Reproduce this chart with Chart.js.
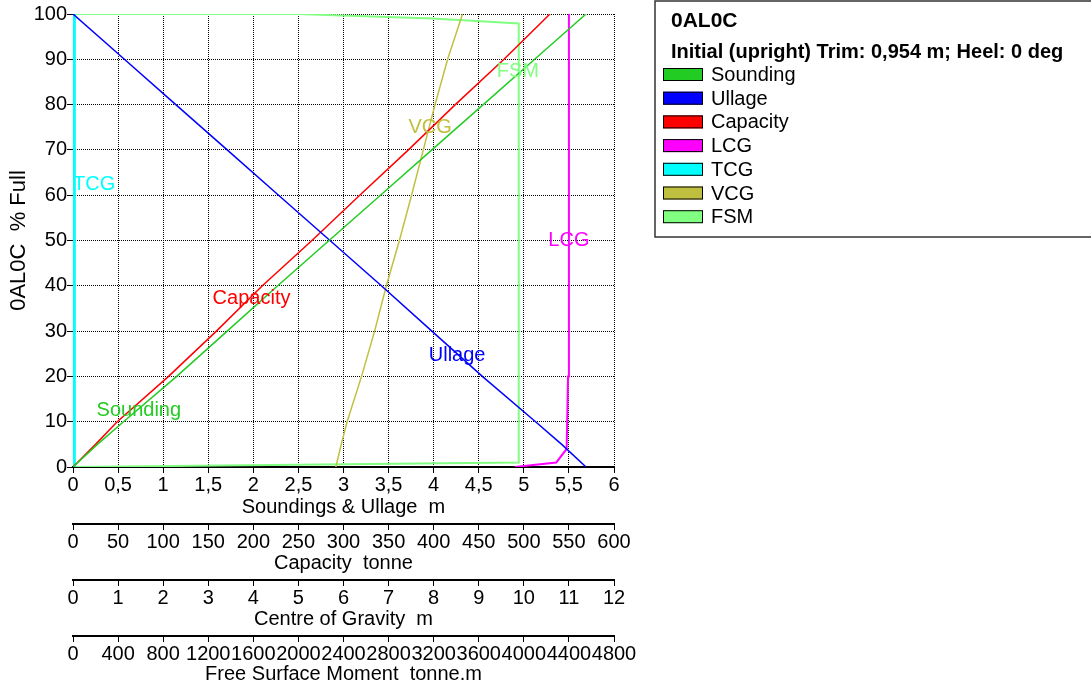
<!DOCTYPE html>
<html>
<head>
<meta charset="utf-8">
<script src="https://cdn.jsdelivr.net/npm/chart.js@4"></script>
<style>
html, body { margin: 0; padding: 0; background: #fff; }
#wrap { width: 1091px; height: 686px; }
</style>
</head>
<body>
<div id="wrap"><canvas id="tankChart" width="1091" height="686"></canvas></div>
<script>
// % full for the sounding / ullage / capacity / VCG curves
var fillPct = [0, 5, 10, 20, 30, 40, 50, 60, 70, 80, 90, 100];
var sounding = [0, 0.27, 0.56, 1.15, 1.71, 2.27, 2.84, 3.41, 3.98, 4.55, 5.12, 5.69];
var ullage = [5.69, 5.42, 5.13, 4.54, 3.98, 3.42, 2.85, 2.28, 1.71, 1.14, 0.57, 0];
var capacity = [0, 25, 49, 106, 159, 210, 265, 318, 372, 424, 478, 529];
var vcg = [5.83, 5.95, 6.08, 6.40, 6.69, 6.95, 7.24, 7.51, 7.77, 8.03, 8.31, 8.64];

var lcgPct = [0, 1, 4, 20, 100];
var lcg = [9.8, 10.72, 10.95, 10.98, 11.0];
var tcgPct = [0, 100];
var tcg = [0.03, 0.03];
var fsmPct = [0, 1, 97.9, 99, 99.6, 100, 100];
var fsm = [0, 3955, 3955, 3190, 2450, 2000, 0];

// axis ranges: [min, max, step]
var pctAxis = [0, 100, 10];
var soundAxis = [0, 6, 0.5];
var capAxis = [0, 600, 50];
var cgAxis = [0, 12, 1];
var fsmAxis = [0, 4800, 400];

var legendTitle = "0AL0C";
var legendSub = "Initial (upright) Trim: 0,954 m; Heel: 0 deg";

function pts(xs, ys) {
  return xs.map(function (v, i) { return { x: v, y: ys[i] }; });
}
function comma(v) {
  return String(v).replace(".", ",");
}

var FONT = '"Liberation Sans", Arial, sans-serif';
Chart.defaults.font.family = FONT;
Chart.defaults.font.size = 20;
Chart.defaults.color = "#000";

function series(label, color, axis, data, width, tag) {
  return {
    label: label,
    data: data,
    xAxisID: axis,
    yAxisID: "y",
    borderColor: color,
    backgroundColor: color,
    borderWidth: width,
    showLine: true,
    pointRadius: 0,
    tension: 0,
    tag: tag
  };
}

var datasets = [
  series("Sounding", "#22cc22", "x", pts(sounding, fillPct), 1.5, [0.73, 12.4]),
  series("Ullage", "#0000ff", "x", pts(ullage, fillPct), 1.5, [4.26, 24.7]),
  series("Capacity", "#ff0000", "xCap", pts(capacity, fillPct), 1.5, [198, 37.3]),
  series("LCG", "#ff00ff", "xCG", pts(lcg, lcgPct), 2, [11.0, 50.1]),
  series("TCG", "#00ffff", "xCG", pts(tcg, tcgPct), 3, [0.47, 62.3]),
  series("VCG", "#c0c040", "xCG", pts(vcg, fillPct), 1.5, [7.92, 75]),
  series("FSM", "#80ff80", "xFSM", pts(fsm, fsmPct), 2, [3947, 87.4])
];

function bottomAxis(range, title, weight, h, titlePad, onChart) {
  return {
    type: "linear",
    position: "bottom",
    weight: weight,
    min: range[0],
    max: range[1],
    ticks: {
      stepSize: range[2],
      autoSkip: false,
      maxRotation: 0,
      minRotation: 0,
      padding: 0,
      callback: function (v) { return comma(v); }
    },
    grid: {
      drawOnChartArea: onChart,
      color: "#000",
      tickLength: 6,
      tickColor: "#000"
    },
    border: { display: true, color: "#000", width: 2, dash: [1, 1] },
    title: { display: true, text: title, padding: { top: 0, bottom: titlePad } },
    afterFit: function (s) { s.height = h; }
  };
}

// series names written on the curves
var curveTags = {
  id: "curveTags",
  afterDatasetsDraw: function (chart) {
    var ctx = chart.ctx;
    var ys = chart.scales.y;
    ctx.save();
    ctx.font = "20px " + FONT;
    ctx.textAlign = "center";
    ctx.textBaseline = "middle";
    chart.data.datasets.forEach(function (ds) {
      var xs = chart.scales[ds.xAxisID];
      ctx.fillStyle = ds.borderColor;
      ctx.fillText(ds.label, xs.getPixelForValue(ds.tag[0]), ys.getPixelForValue(ds.tag[1]));
    });
    ctx.restore();
  }
};

// boxed legend at the top right
var boxLegend = {
  id: "boxLegend",
  afterDraw: function (chart) {
    var ctx = chart.ctx;
    var left = 655, top = 1, bottom = 237;
    ctx.save();
    ctx.strokeStyle = "#333";
    ctx.lineWidth = 1.5;
    ctx.strokeRect(left, top, chart.width - left + 5, bottom - top);
    ctx.fillStyle = "#000";
    ctx.textAlign = "left";
    ctx.textBaseline = "middle";
    ctx.font = "bold 21px " + FONT;
    ctx.fillText(legendTitle, 671, 21);
    ctx.font = "bold 20px " + FONT;
    ctx.fillText(legendSub, 671, 52);
    ctx.font = "20px " + FONT;
    chart.data.datasets.forEach(function (ds, i) {
      var cy = 74.5 + i * 23.7;
      ctx.fillStyle = ds.borderColor;
      ctx.fillRect(663, cy - 6.5, 40, 13);
      ctx.strokeStyle = "#000";
      ctx.lineWidth = 1;
      ctx.strokeRect(663.5, cy - 6, 39, 12);
      ctx.fillStyle = "#000";
      ctx.fillText(ds.label, 711, cy + 1);
    });
    ctx.restore();
  }
};

var chart = new Chart(document.getElementById("tankChart").getContext("2d"), {
  type: "scatter",
  data: { datasets: datasets },
  options: {
    responsive: false,
    animation: false,
    layout: { padding: { top: 14, right: 477, bottom: 0, left: 0 } },
    plugins: {
      legend: { display: false },
      tooltip: { enabled: false }
    },
    scales: {
      y: {
        type: "linear",
        position: "left",
        min: pctAxis[0],
        max: pctAxis[1],
        ticks: { stepSize: pctAxis[2], padding: 0 },
        grid: { color: "#000", tickLength: 6, tickColor: "#000" },
        border: { display: false, dash: [1, 1] },
        title: { display: true, text: "0AL0C  % Full", font: { size: 22 }, padding: { top: 6, bottom: 0 } },
        afterFit: function (s) { s.width = 73; }
      },
      x: bottomAxis(soundAxis, "Soundings & Ullage  m", 1, 57, 5, true),
      xCap: bottomAxis(capAxis, "Capacity  tonne", 2, 56, 5, false),
      xCG: bottomAxis(cgAxis, "Centre of Gravity  m", 3, 56, 5, false),
      xFSM: bottomAxis(fsmAxis, "Free Surface Moment  tonne.m", 4, 50, 0, false)
    }
  },
  plugins: [curveTags, boxLegend]
});
</script>
</body>
</html>
